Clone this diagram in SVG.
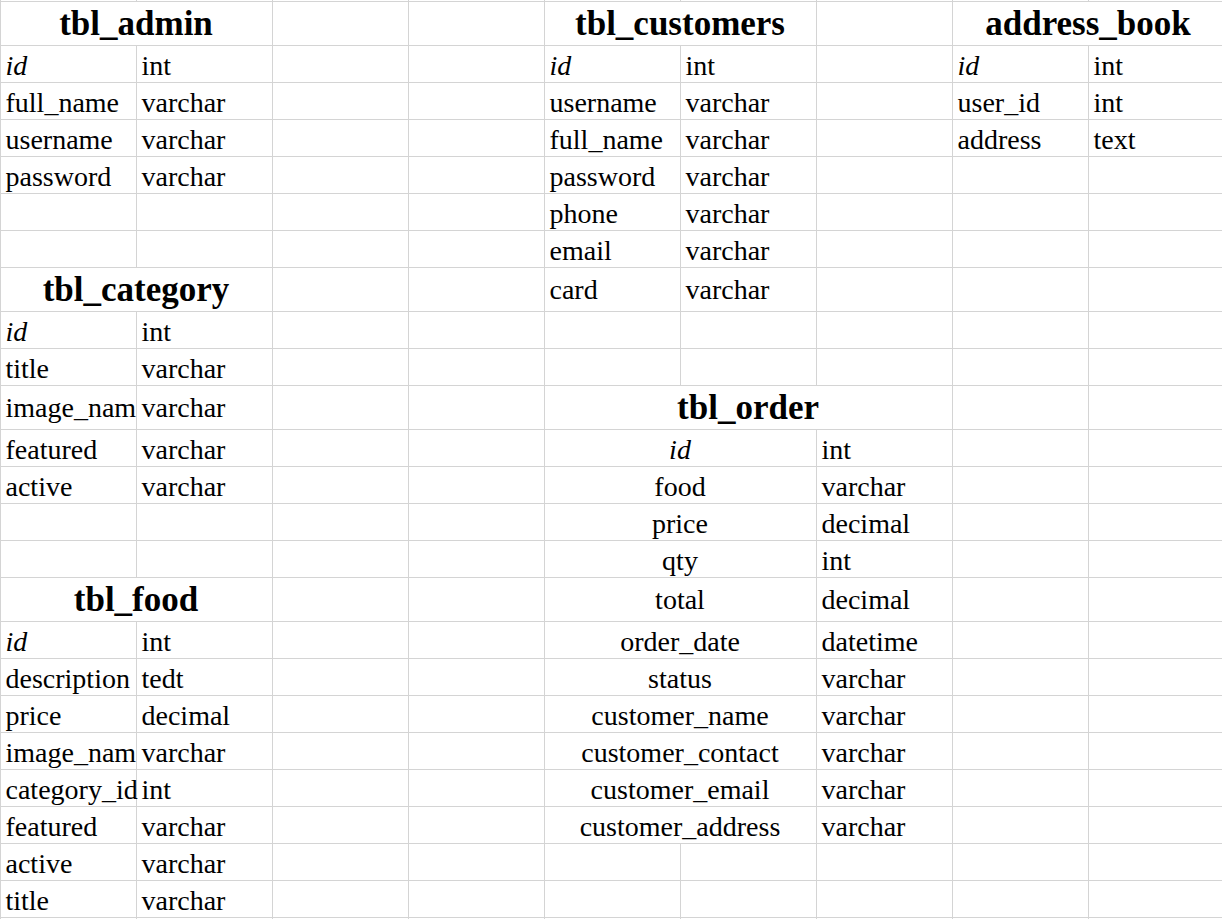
<svg xmlns="http://www.w3.org/2000/svg" width="1222" height="919" viewBox="0 0 1222 919">
<style>
  .g line { stroke: #d4d4d4; stroke-width: 1; }
  text { font-family: "Liberation Serif", "Times New Roman", serif; fill: #000; }
  .t { font-size: 35px; font-weight: bold; text-anchor: middle; }
  .c { font-size: 28px; }
  .i { font-style: italic; }
  .m { text-anchor: middle; }
</style>
<rect x="0" y="0" width="1222" height="919" fill="#fff"/>
<g id="connectors" class="g">
  <!-- horizontal grid lines -->
  <line x1="0" y1="1.5" x2="1222" y2="1.5"/>
  <line x1="0" y1="45.5" x2="1222" y2="45.5"/>
  <line x1="0" y1="82.5" x2="1222" y2="82.5"/>
  <line x1="0" y1="119.5" x2="1222" y2="119.5"/>
  <line x1="0" y1="156.5" x2="1222" y2="156.5"/>
  <line x1="0" y1="193.5" x2="1222" y2="193.5"/>
  <line x1="0" y1="230.5" x2="1222" y2="230.5"/>
  <line x1="0" y1="267.5" x2="1222" y2="267.5"/>
  <line x1="0" y1="311.5" x2="1222" y2="311.5"/>
  <line x1="0" y1="348.5" x2="1222" y2="348.5"/>
  <line x1="0" y1="385.5" x2="1222" y2="385.5"/>
  <line x1="0" y1="429.5" x2="1222" y2="429.5"/>
  <line x1="0" y1="466.5" x2="1222" y2="466.5"/>
  <line x1="0" y1="503.5" x2="1222" y2="503.5"/>
  <line x1="0" y1="540.5" x2="1222" y2="540.5"/>
  <line x1="0" y1="577.5" x2="1222" y2="577.5"/>
  <line x1="0" y1="621.5" x2="1222" y2="621.5"/>
  <line x1="0" y1="658.5" x2="1222" y2="658.5"/>
  <line x1="0" y1="695.5" x2="1222" y2="695.5"/>
  <line x1="0" y1="732.5" x2="1222" y2="732.5"/>
  <line x1="0" y1="769.5" x2="1222" y2="769.5"/>
  <line x1="0" y1="806.5" x2="1222" y2="806.5"/>
  <line x1="0" y1="843.5" x2="1222" y2="843.5"/>
  <line x1="0" y1="880.5" x2="1222" y2="880.5"/>
  <line x1="0" y1="917.5" x2="1222" y2="917.5"/>
  <!-- vertical grid lines -->
  <line x1="0.5" y1="0" x2="0.5" y2="919"/>
  <line x1="136.5" y1="0" x2="136.5" y2="1"/>
  <line x1="136.5" y1="45" x2="136.5" y2="267"/>
  <line x1="136.5" y1="311" x2="136.5" y2="577"/>
  <line x1="136.5" y1="621" x2="136.5" y2="919"/>
  <line x1="272.5" y1="0" x2="272.5" y2="919"/>
  <line x1="408.5" y1="0" x2="408.5" y2="919"/>
  <line x1="544.5" y1="0" x2="544.5" y2="919"/>
  <line x1="680.5" y1="0" x2="680.5" y2="1"/>
  <line x1="680.5" y1="45" x2="680.5" y2="385"/>
  <line x1="680.5" y1="843" x2="680.5" y2="919"/>
  <line x1="816.5" y1="0" x2="816.5" y2="385"/>
  <line x1="816.5" y1="429" x2="816.5" y2="919"/>
  <line x1="952.5" y1="0" x2="952.5" y2="919"/>
  <line x1="1088.5" y1="0" x2="1088.5" y2="1"/>
  <line x1="1088.5" y1="45" x2="1088.5" y2="919"/>
</g>

<g id="tbl_admin">
  <text class="t" x="136" y="35">tbl_admin</text>
  <text class="c i" x="5.5" y="74.5">id</text><text class="c" x="141.5" y="74.5">int</text>
  <text class="c" x="5.5" y="111.5">full_name</text><text class="c" x="141.5" y="111.5">varchar</text>
  <text class="c" x="5.5" y="148.5">username</text><text class="c" x="141.5" y="148.5">varchar</text>
  <text class="c" x="5.5" y="185.5">password</text><text class="c" x="141.5" y="185.5">varchar</text>
</g>

<g id="tbl_category">
  <text class="t" x="136" y="301">tbl_category</text>
  <text class="c i" x="5.5" y="340.5">id</text><text class="c" x="141.5" y="340.5">int</text>
  <text class="c" x="5.5" y="377.5">title</text><text class="c" x="141.5" y="377.5">varchar</text>
  <text class="c" x="5.5" y="417">image_nam</text><text class="c" x="141.5" y="417">varchar</text>
  <text class="c" x="5.5" y="458.5">featured</text><text class="c" x="141.5" y="458.5">varchar</text>
  <text class="c" x="5.5" y="495.5">active</text><text class="c" x="141.5" y="495.5">varchar</text>
</g>

<g id="tbl_food">
  <text class="t" x="136" y="611">tbl_food</text>
  <text class="c i" x="5.5" y="650.5">id</text><text class="c" x="141.5" y="650.5">int</text>
  <text class="c" x="5.5" y="687.5">description</text><text class="c" x="141.5" y="687.5">tedt</text>
  <text class="c" x="5.5" y="724.5">price</text><text class="c" x="141.5" y="724.5">decimal</text>
  <text class="c" x="5.5" y="761.5">image_nam</text><text class="c" x="141.5" y="761.5">varchar</text>
  <text class="c" x="5.5" y="798.5">category_id</text><text class="c" x="141.5" y="798.5">int</text>
  <text class="c" x="5.5" y="835.5">featured</text><text class="c" x="141.5" y="835.5">varchar</text>
  <text class="c" x="5.5" y="872.5">active</text><text class="c" x="141.5" y="872.5">varchar</text>
  <text class="c" x="5.5" y="909.5">title</text><text class="c" x="141.5" y="909.5">varchar</text>
</g>

<g id="tbl_customers">
  <text class="t" x="680" y="35">tbl_customers</text>
  <text class="c i" x="549.5" y="74.5">id</text><text class="c" x="685.5" y="74.5">int</text>
  <text class="c" x="549.5" y="111.5">username</text><text class="c" x="685.5" y="111.5">varchar</text>
  <text class="c" x="549.5" y="148.5">full_name</text><text class="c" x="685.5" y="148.5">varchar</text>
  <text class="c" x="549.5" y="185.5">password</text><text class="c" x="685.5" y="185.5">varchar</text>
  <text class="c" x="549.5" y="222.5">phone</text><text class="c" x="685.5" y="222.5">varchar</text>
  <text class="c" x="549.5" y="259.5">email</text><text class="c" x="685.5" y="259.5">varchar</text>
  <text class="c" x="549.5" y="299">card</text><text class="c" x="685.5" y="299">varchar</text>
</g>

<g id="tbl_order">
  <text class="t" x="748" y="419">tbl_order</text>
  <text class="c i m" x="680" y="458.5">id</text><text class="c" x="821.5" y="458.5">int</text>
  <text class="c m" x="680" y="495.5">food</text><text class="c" x="821.5" y="495.5">varchar</text>
  <text class="c m" x="680" y="532.5">price</text><text class="c" x="821.5" y="532.5">decimal</text>
  <text class="c m" x="680" y="569.5">qty</text><text class="c" x="821.5" y="569.5">int</text>
  <text class="c m" x="680" y="609">total</text><text class="c" x="821.5" y="609">decimal</text>
  <text class="c m" x="680" y="650.5">order_date</text><text class="c" x="821.5" y="650.5">datetime</text>
  <text class="c m" x="680" y="687.5">status</text><text class="c" x="821.5" y="687.5">varchar</text>
  <text class="c m" x="680" y="724.5">customer_name</text><text class="c" x="821.5" y="724.5">varchar</text>
  <text class="c m" x="680" y="761.5">customer_contact</text><text class="c" x="821.5" y="761.5">varchar</text>
  <text class="c m" x="680" y="798.5">customer_email</text><text class="c" x="821.5" y="798.5">varchar</text>
  <text class="c m" x="680" y="835.5">customer_address</text><text class="c" x="821.5" y="835.5">varchar</text>
</g>

<g id="address_book">
  <text class="t" x="1088" y="35">address_book</text>
  <text class="c i" x="957.5" y="74.5">id</text><text class="c" x="1093.5" y="74.5">int</text>
  <text class="c" x="957.5" y="111.5">user_id</text><text class="c" x="1093.5" y="111.5">int</text>
  <text class="c" x="957.5" y="148.5">address</text><text class="c" x="1093.5" y="148.5">text</text>
</g>
</svg>
